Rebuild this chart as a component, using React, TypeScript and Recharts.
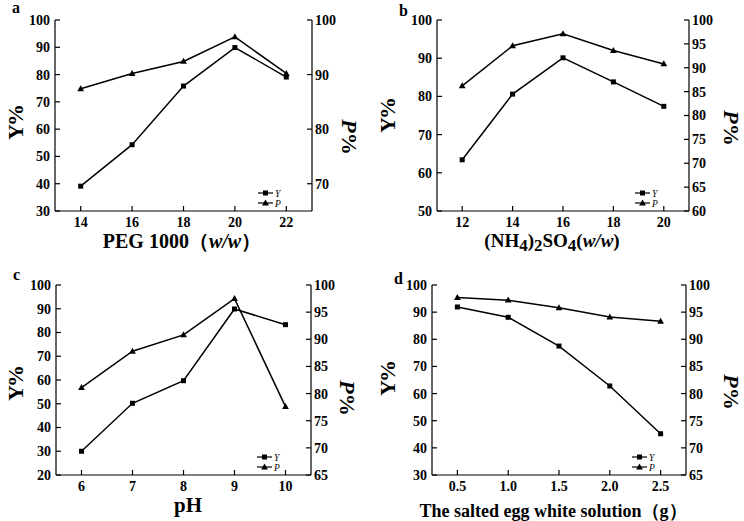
import React from 'react';
import { LineChart, Line, XAxis, YAxis, Legend } from 'recharts';

// a: PEG 1000
const pegX = [14, 16, 18, 20, 22];
const pegY = [39.1, 54.3, 75.8, 89.9, 79.1];
const pegP = [87.4, 90.2, 92.4, 96.9, 90.2];

// b: (NH4)2SO4
const saltX = [12, 14, 16, 18, 20];
const saltY = [63.4, 80.6, 90.1, 83.8, 77.4];
const saltP = [86.2, 94.6, 97.1, 93.6, 90.8];

// c: pH
const phX = [6, 7, 8, 9, 10];
const phY = [30.0, 50.2, 59.7, 89.9, 83.3];
const phP = [81.1, 87.8, 90.8, 97.5, 77.6];

// d: salted egg white solution
const eggX = [0.5, 1.0, 1.5, 2.0, 2.5];
const eggY = [91.9, 88.1, 77.5, 62.8, 45.2];
const eggP = [97.7, 97.2, 95.8, 94.1, 93.3];

const legendNames = ['Y', 'P'];

const FONT = '"Liberation Serif", "Times New Roman", serif';
const tickStyle = { fontSize: 14, fontWeight: 'bold', fontFamily: FONT, fill: '#000' };

const Square = (props: any) => {
  const { cx, cy, index } = props;
  if (cx == null || cy == null) return null;
  return <rect key={`s${index}`} x={cx - 2.5} y={cy - 2.5} width={5} height={5} fill="#000" />;
};

const Triangle = (props: any) => {
  const { cx, cy, index } = props;
  if (cx == null || cy == null) return null;
  return (
    <path key={`t${index}`} d={`M${cx},${cy - 3.6}L${cx + 3.4},${cy + 2.4}L${cx - 3.4},${cy + 2.4}Z`} fill="#000" />
  );
};

const range = (a: number, b: number, s: number) => {
  const out: number[] = [];
  for (let v = a; v <= b + 1e-9; v += s) out.push(Math.round(v * 100) / 100);
  return out;
};

const panels = [
  {
    key: 'a', left: 0, top: 0, height: 260,
    margin: { top: 20, left: 55, right: 60, bottom: 49 },
    xs: pegX, ys: pegY, ps: pegP,
    xDomain: [13, 23], xTicks: pegX, xMinor: [15, 17, 19, 21], xFmt: (v: number) => String(v),
    yDomain: [30, 100], yTicks: range(30, 100, 10), yMinor: range(35, 95, 10),
    pDomain: [65, 100], pTicks: range(70, 100, 10), pMinor: range(75, 95, 10),
    letterPos: [12, 13], yLabelPos: [15, 122], pLabelPos: [350, 137], xLabelPos: [182, 248], xLabelSize: 20,
    xLabel: (
      <>
        <tspan>PEG 1000</tspan>
        <tspan>（</tspan>
        <tspan fontStyle="italic">w/w</tspan>
        <tspan>）</tspan>
      </>
    ),
  },
  {
    key: 'b', left: 372, top: 0, height: 260,
    margin: { top: 20, left: 65, right: 55, bottom: 49 },
    xs: saltX, ys: saltY, ps: saltP,
    xDomain: [11, 21], xTicks: saltX, xMinor: [13, 15, 17, 19], xFmt: (v: number) => String(v),
    yDomain: [50, 100], yTicks: range(50, 100, 10), yMinor: range(55, 95, 10),
    pDomain: [60, 100], pTicks: range(60, 100, 5), pMinor: range(62.5, 97.5, 5),
    letterPos: [27, 16], yLabelPos: [15, 115], pLabelPos: [360, 128], xLabelPos: [180, 247], xLabelSize: 19,
    xLabel: (
      <>
        <tspan>(NH</tspan>
        <tspan fontSize={17} dy={4}>4</tspan>
        <tspan dy={-4}>)</tspan>
        <tspan fontSize={17} dy={4}>2</tspan>
        <tspan dy={-4}>SO</tspan>
        <tspan fontSize={17} dy={4}>4</tspan>
        <tspan dy={-4}>(</tspan>
        <tspan fontStyle="italic">w/w</tspan>
        <tspan>)</tspan>
      </>
    ),
  },
  {
    key: 'c', left: 0, top: 260, height: 261,
    margin: { top: 25, left: 56, right: 61, bottom: 46 },
    xs: phX, ys: phY, ps: phP,
    xDomain: [5.5, 10.5], xTicks: phX, xMinor: [6.5, 7.5, 8.5, 9.5], xFmt: (v: number) => String(v),
    yDomain: [20, 100], yTicks: range(20, 100, 10), yMinor: range(25, 95, 10),
    pDomain: [65, 100], pTicks: range(65, 100, 5), pMinor: range(67.5, 97.5, 5),
    letterPos: [13, 20], yLabelPos: [15, 123], pLabelPos: [348, 138], xLabelPos: [188, 252], xLabelSize: 21,
    xLabel: <tspan>pH</tspan>,
  },
  {
    key: 'd', left: 372, top: 260, height: 261,
    margin: { top: 25, left: 60, right: 58, bottom: 46 },
    xs: eggX, ys: eggY, ps: eggP,
    xDomain: [0.25, 2.75], xTicks: eggX, xMinor: [0.75, 1.25, 1.75, 2.25], xFmt: (v: number) => v.toFixed(1),
    yDomain: [30, 100], yTicks: range(30, 100, 10), yMinor: range(35, 95, 10),
    pDomain: [65, 100], pTicks: range(65, 100, 5), pMinor: range(67.5, 97.5, 5),
    letterPos: [22, 24], yLabelPos: [15, 118], pLabelPos: [360, 132], xLabelPos: [181, 257], xLabelSize: 18,
    xLabel: (
      <>
        <tspan>The salted egg white solution</tspan>
        <tspan>（g）</tspan>
      </>
    ),
  },
];

const LegendBox = () => (
  <svg width={40} height={22} style={{ display: 'block', overflow: 'visible' }}>
    {legendNames.map((name, i) => {
      const y = 5 + i * 10;
      return (
        <g key={name}>
          <line x1={0} x2={15} y1={y} y2={y} stroke="#000" strokeWidth={1.2} />
          {i === 0 ? <Square cx={7.5} cy={y} index={0} /> : <Triangle cx={7.5} cy={y} index={0} />}
          <text x={17} y={y + 3.5} fontSize={9.5} fontStyle="italic" fontFamily={FONT}>
            {name}
          </text>
        </g>
      );
    })}
  </svg>
);

function Panel({ cfg }: { cfg: (typeof panels)[number] }) {
  const data = cfg.xs.map((x, i) => ({ x, Y: cfg.ys[i], P: cfg.ps[i] }));
  const m = cfg.margin;
  const w = 372;
  const plotRight = w - m.right;
  const plotBottom = cfg.height - m.bottom;

  const titleStyle = { fontSize: 20, fontWeight: 'bold' as const, fontFamily: FONT, fill: '#000' };

  const xTitle = () => (
    <g>
      <text x={cfg.letterPos[0]} y={cfg.letterPos[1]} fontSize={16} fontWeight="bold" fontFamily={FONT}>
        {cfg.key}
      </text>
      <text x={cfg.xLabelPos[0]} y={cfg.xLabelPos[1]} textAnchor="middle" style={{ ...titleStyle, fontSize: cfg.xLabelSize }}>
        {cfg.xLabel}
      </text>
    </g>
  );
  const yTitle = () => {
    const [cx, cy] = cfg.yLabelPos;
    return (
      <text x={cx} y={cy} textAnchor="middle" dominantBaseline="central" transform={`rotate(-90, ${cx}, ${cy})`} style={{ ...titleStyle, fontSize: 22 }}>
        <tspan>Y</tspan>
        <tspan dx={-2}>%</tspan>
      </text>
    );
  };
  const pTitle = () => {
    const [cx, cy] = cfg.pLabelPos;
    return (
      <text x={cx} y={cy} textAnchor="middle" dominantBaseline="central" transform={`rotate(90, ${cx}, ${cy})`} style={{ ...titleStyle, fontSize: 22 }}>
        <tspan fontStyle="italic">P</tspan>
        <tspan>%</tspan>
      </text>
    );
  };

  return (
    <div style={{ position: 'absolute', left: cfg.left, top: cfg.top, width: w, height: cfg.height }}>
      <LineChart width={w} height={cfg.height} data={data} margin={{ top: m.top, right: 0, left: 0, bottom: 0 }}>
        <XAxis xAxisId="xm" dataKey="x" type="number" domain={cfg.xDomain} ticks={cfg.xMinor} tick={false} tickSize={-3} axisLine={false} height={0} stroke="#000" />
        <XAxis
          xAxisId="x" dataKey="x" type="number" domain={cfg.xDomain} ticks={cfg.xTicks} tickFormatter={cfg.xFmt}
          tickSize={-5} tickMargin={11} height={m.bottom} tick={tickStyle} stroke="#000" strokeWidth={1.2}
          label={xTitle}
        />
        <XAxis xAxisId="top" orientation="top" dataKey="x" type="number" domain={cfg.xDomain} tick={false} tickLine={false} height={0} stroke="#000" strokeWidth={1.2} />
        <YAxis yAxisId="ym" orientation="left" type="number" domain={cfg.yDomain} ticks={cfg.yMinor} tick={false} tickSize={-3} axisLine={false} width={0} stroke="#000" />
        <YAxis
          yAxisId="y" orientation="left" type="number" domain={cfg.yDomain} ticks={cfg.yTicks}
          tickSize={-5} tickMargin={10} width={m.left} tick={tickStyle} stroke="#000" strokeWidth={1.2}
          label={yTitle}
        />
        <YAxis yAxisId="pm" orientation="right" type="number" domain={cfg.pDomain} ticks={cfg.pMinor} tick={false} tickSize={-3} axisLine={false} width={0} stroke="#000" />
        <YAxis
          yAxisId="p" orientation="right" type="number" domain={cfg.pDomain} ticks={cfg.pTicks}
          tickSize={-5} tickMargin={8} width={m.right} tick={{ ...tickStyle, textAnchor: 'start' }} stroke="#000" strokeWidth={1.2}
          label={pTitle}
        />
        <Line xAxisId="x" yAxisId="y" dataKey="Y" name="Y" stroke="#000" strokeWidth={1.5} dot={Square} activeDot={false} isAnimationActive={false} />
        <Line xAxisId="x" yAxisId="p" dataKey="P" name="P" stroke="#000" strokeWidth={1.5} dot={Triangle} activeDot={false} isAnimationActive={false} />
        <Legend
          layout="vertical" align="center" verticalAlign="middle"
          content={() => <LegendBox />}
          wrapperStyle={{ position: 'absolute', left: plotRight - 54, top: plotBottom - 23, width: 40, height: 22 }}
        />
      </LineChart>
    </div>
  );
}

export default function App() {
  return (
    <div style={{ position: 'absolute', left: 0, top: 0, width: 744, height: 521, background: '#fff' }}>
      {panels.map((p) => (
        <Panel key={p.key} cfg={p} />
      ))}
    </div>
  );
}
